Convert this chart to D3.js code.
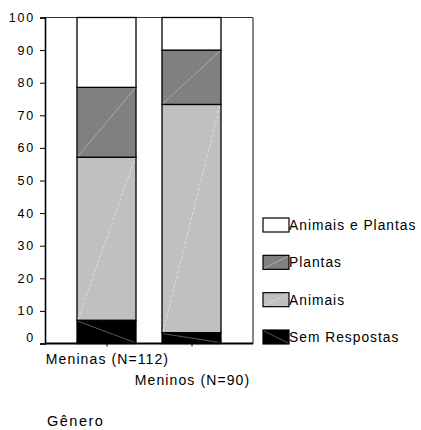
<!DOCTYPE html>
<html>
<head>
<meta charset="utf-8">
<script src="https://cdn.jsdelivr.net/npm/d3@7"></script>
<style>
  html, body { margin: 0; padding: 0; background: #fff; }
  svg { display: block; font-family: "Liberation Sans", Arial, sans-serif; }
</style>
</head>
<body>
<svg id="chart" width="421" height="430"></svg>
<script>
// Gender groups (x axis)
const categories = ["Meninas (N=112)", "Meninos (N=90)"];

// Percentages per response type, one value per gender group
const semRespostas    = [7.14, 3.33];
const animais         = [50.00, 70.00];
const plantas         = [21.43, 16.67];
const animaisEPlantas = [21.43, 10.00];

// Stack order (bottom to top) and legend labels
const seriesNames = ["Sem Respostas", "Animais", "Plantas", "Animais e Plantas"];
const seriesValues = [semRespostas, animais, plantas, animaisEPlantas];
const seriesFill = ["#000000", "#c0c0c0", "#808080", "#ffffff"];
// faint hatch line drawn across each segment: [colour, dash, direction]
const seriesHatch = [
  ["#6e6e6e", null, "down"],
  ["#e6e6e6", "3,2", "up"],
  ["#b4b4b4", null, "up"],
  [null, null, null]
];

const yTicks = [0, 10, 20, 30, 40, 50, 60, 70, 80, 90, 100];

const svg = d3.select("#chart");

const plot = { left: 45, right: 253, top: 17.5, bottom: 343.5 };

const y = d3.scaleLinear().domain([0, 100]).range([plot.bottom, plot.top]);
const x = d3.scalePoint().domain(categories).range([plot.left, plot.right]).padding(0.7235);
const barW = 59;

// Build stacked data
const table = categories.map((c, i) => {
  const row = { cat: c };
  seriesNames.forEach((s, k) => { row[s] = seriesValues[k][i]; });
  return row;
});
const stacked = d3.stack().keys(seriesNames)(table);

// Frame: top and right border lines
svg.append("line")
  .attr("x1", plot.left).attr("x2", plot.right)
  .attr("y1", plot.top).attr("y2", plot.top)
  .attr("stroke", "#333").attr("stroke-width", 1.2);
svg.append("line")
  .attr("x1", plot.right).attr("x2", plot.right)
  .attr("y1", plot.top).attr("y2", plot.bottom)
  .attr("stroke", "#333").attr("stroke-width", 1.2);

// Bars
stacked.forEach((layer, k) => {
  const g = svg.append("g");
  layer.forEach(d => {
    const cx = x(d.data.cat);
    const x0 = cx - barW / 2, x1 = cx + barW / 2;
    const yTop = y(d[1]), yBot = y(d[0]);
    g.append("rect")
      .attr("x", x0).attr("y", yTop)
      .attr("width", barW).attr("height", yBot - yTop)
      .attr("fill", seriesFill[k])
      .attr("stroke", "#000").attr("stroke-width", 1.3);
    const h = seriesHatch[k];
    if (h[0]) {
      const ln = g.append("line")
        .attr("x1", x0 + 1).attr("x2", x1 - 1)
        .attr("y1", h[2] === "up" ? yBot - 1 : yTop + 1)
        .attr("y2", h[2] === "up" ? yTop + 1 : yBot - 1)
        .attr("stroke", h[0]).attr("stroke-width", 0.8);
      if (h[1]) ln.attr("stroke-dasharray", h[1]);
    }
  });
});

// Y axis
const yAxis = svg.append("g").attr("transform", `translate(${plot.left},0)`)
  .call(d3.axisLeft(y).tickValues(yTicks).tickSize(5).tickPadding(5));
yAxis.select(".domain").attr("stroke", "#000").attr("stroke-width", 1.6);
yAxis.selectAll(".tick line").attr("stroke", "#000");
yAxis.selectAll(".tick text")
  .attr("font-size", 12.5).attr("fill", "#000")
  .attr("font-family", "Liberation Sans, Arial, sans-serif")
  .style("letter-spacing", "1.8px")
  .attr("dy", d => d === 0 ? "-0.2em" : "0.32em");

// X axis
const xAxis = svg.append("g").attr("transform", `translate(0,${plot.bottom})`)
  .call(d3.axisBottom(x).tickSize(3).tickFormat(""));
xAxis.select(".domain").attr("stroke", "#000").attr("stroke-width", 1.8)
  .attr("d", `M${plot.left},0H${plot.right}`);
xAxis.selectAll(".tick line").attr("stroke", "#000");

// Category labels, staggered on two rows
categories.forEach((c, i) => {
  svg.append("text")
    .attr("x", x(c) + 1)
    .attr("y", i === 0 ? 364 : 385)
    .attr("text-anchor", "middle")
    .attr("font-size", 14)
    .style("letter-spacing", "1.1px")
    .text(c);
});

// Axis title
svg.append("text")
  .attr("x", 47).attr("y", 426)
  .attr("font-size", 14.5)
  .style("letter-spacing", "1.5px")
  .text("Gênero");

// Legend (top series first)
const legend = svg.append("g");
const legendOrder = d3.range(seriesNames.length).reverse();
const legendY = d3.scalePoint().domain(legendOrder).range([218, 330]);
legendOrder.forEach(k => {
  const ly = legendY(k);
  legend.append("rect")
    .attr("x", 263).attr("y", ly)
    .attr("width", 26).attr("height", 14)
    .attr("fill", seriesFill[k])
    .attr("stroke", "#000").attr("stroke-width", 1.2);
  const h = seriesHatch[k];
  if (h[0]) {
    const ln = legend.append("line")
      .attr("x1", 264).attr("x2", 288)
      .attr("y1", h[2] === "up" ? ly + 13 : ly + 1)
      .attr("y2", h[2] === "up" ? ly + 1 : ly + 13)
      .attr("stroke", h[0]).attr("stroke-width", 0.8);
    if (h[1]) ln.attr("stroke-dasharray", h[1]);
  }
  legend.append("text")
    .attr("x", 289).attr("y", ly + 12)
    .attr("font-size", 13.8)
    .style("letter-spacing", "1px")
    .text(seriesNames[k]);
});
</script>
</body>
</html>
